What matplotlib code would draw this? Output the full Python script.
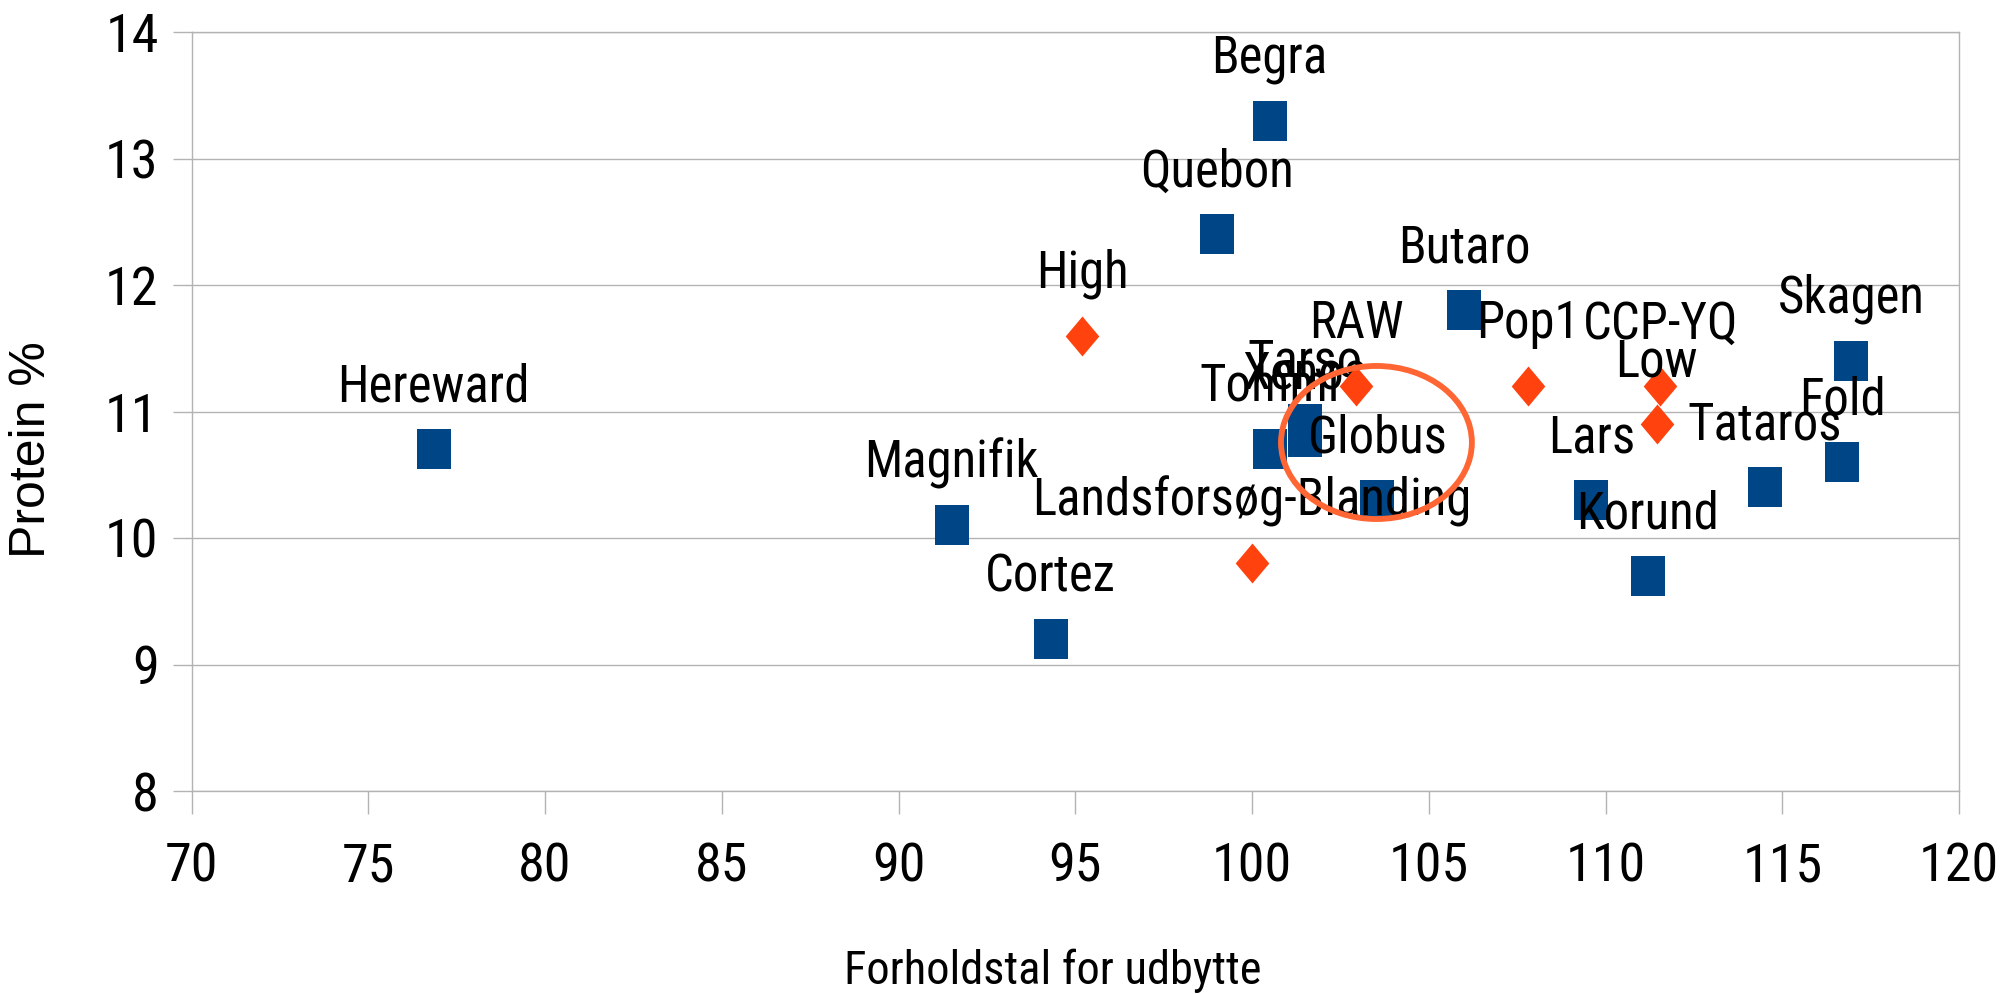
import matplotlib.pyplot as plt
from matplotlib.path import Path
from matplotlib.patches import Ellipse

# sorter (blå firkanter)
sort_navne = ['Hereward', 'Magnifik', 'Cortez', 'Quebon', 'Begra', 'Tommi', 'Tarso',
              'Xenos', 'Globus', 'Butaro', 'Lars', 'Korund', 'Tataros', 'Fold', 'Skagen']
sort_udbytte = [76.85, 91.5, 94.3, 99.0, 100.5, 100.5, 101.5,
                101.5, 103.55, 106.0, 109.6, 111.2, 114.5, 116.7, 116.95]
sort_protein = [10.7, 10.1, 9.2, 12.4, 13.3, 10.7, 10.9,
                10.8, 10.3, 11.8, 10.3, 9.7, 10.4, 10.6, 11.4]

# populationer / blandinger (orange ruder)
pop_navne = ['High', 'Landsforsøg-Blanding', 'RAW', 'Pop1', 'CCP-YQ', 'Low']
pop_udbytte = [95.2, 100.0, 102.95, 107.8, 111.55, 111.45]
pop_protein = [11.6, 9.8, 11.2, 11.2, 11.2, 10.9]

x_ticks = [70, 75, 80, 85, 90, 95, 100, 105, 110, 115, 120]
y_ticks = [8, 9, 10, 11, 12, 13, 14]

# ring om Globus
ring_centrum = (103.52, 10.755)
ring_bredde = 5.40
ring_hoejde = 1.21

narrow = ['Roboto Condensed', 'Liberation Sans', 'DejaVu Sans']
grid_col = '#b3b3b3'

# lidt smalle markører ligesom i originalen
square = Path([(-0.425, -0.5), (0.425, -0.5), (0.425, 0.5), (-0.425, 0.5), (-0.425, -0.5)],
              [Path.MOVETO, Path.LINETO, Path.LINETO, Path.LINETO, Path.CLOSEPOLY])
diamond = Path([(0, -0.5), (0.42, 0), (0, 0.5), (-0.42, 0), (0, -0.5)],
               [Path.MOVETO, Path.LINETO, Path.LINETO, Path.LINETO, Path.CLOSEPOLY])

fig = plt.figure(figsize=(20.01, 9.94), dpi=100)
ax = fig.add_axes([191.5 / 2001, 1 - 791 / 994, (1959 - 191.5) / 2001, (791 - 32) / 994])

ax.plot(sort_udbytte, sort_protein, linestyle='none', marker=square, markersize=28.8,
        markerfacecolor='#004586', markeredgewidth=0, zorder=3)
for navn, x, y in zip(sort_navne, sort_udbytte, sort_protein):
    ax.annotate(navn, (x, y), xytext=(0, 34.5), textcoords='offset points',
                ha='center', va='baseline', fontsize=36.5, family=narrow, zorder=4)

ax.plot(pop_udbytte, pop_protein, linestyle='none', marker=diamond, markersize=28.8,
        markerfacecolor='#ff420e', markeredgewidth=0, zorder=5)
for navn, x, y in zip(pop_navne, pop_udbytte, pop_protein):
    ax.annotate(navn, (x, y), xytext=(0, 34.5), textcoords='offset points',
                ha='center', va='baseline', fontsize=36.5, family=narrow, zorder=6)

ax.add_patch(Ellipse(ring_centrum, ring_bredde, ring_hoejde, fill=False,
                     edgecolor='#ff6633', linewidth=4.2, zorder=7))

ax.set_xlim(70, 120)
ax.set_ylim(8, 14)
ax.set_xticks(x_ticks)
ax.set_yticks(y_ticks)
ax.set_xticklabels([str(t) for t in x_ticks], family=narrow, fontsize=39)
ax.set_yticklabels([str(t) for t in y_ticks], family=narrow, fontsize=39)
ax.tick_params(axis='x', length=16.5, width=1, color=grid_col, pad=20)
ax.tick_params(axis='y', length=13.7, width=1, color=grid_col, pad=10)

ax.yaxis.grid(True, color=grid_col, linewidth=1)
ax.set_axisbelow(True)
for side in ['left', 'right', 'bottom', 'top']:
    ax.spines[side].set_color(grid_col)
    ax.spines[side].set_linewidth(1)

ax.set_xlabel('Forholdstal for udbytte', family=narrow, fontsize=33.5, va='top')
ax.xaxis.set_label_coords(0.487, -0.208)
ax.set_ylabel('Protein %', family=['Liberation Sans', 'DejaVu Sans'], fontsize=36, va='center')
ax.yaxis.set_label_coords(-0.0904, 0.45)

fig.savefig('out.png', dpi=100)
